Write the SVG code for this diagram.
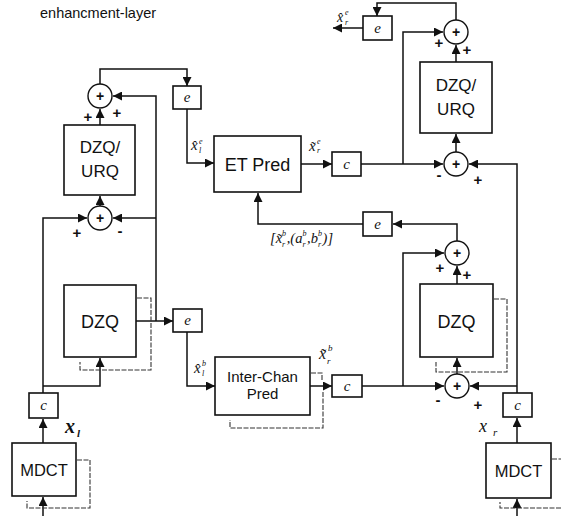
<svg xmlns="http://www.w3.org/2000/svg" width="561" height="516" viewBox="0 0 561 516">
<defs>
<marker id="ah" markerUnits="userSpaceOnUse" markerWidth="10" markerHeight="9" refX="9" refY="4.5" orient="auto">
<path d="M0,0 L9,4.5 L0,9 z" fill="#111"/>
</marker>
<style>
.box{fill:#fff;stroke:#111;stroke-width:1.6}
.sum{fill:#fff;stroke:#111;stroke-width:1.4}
.ln{fill:none;stroke:#111;stroke-width:1.5}
.ar{fill:none;stroke:#111;stroke-width:1.5;marker-end:url(#ah)}
.br{fill:none;stroke:#333;stroke-width:1.1;stroke-dasharray:5,1.5}
.sans{font-family:"Liberation Sans",Arial,sans-serif;fill:#111}
.lbl{font-family:"Liberation Sans",Arial,sans-serif;fill:#111;text-anchor:middle}
.m{font-family:"Liberation Serif","Times New Roman",serif;font-style:italic;fill:#111}
.ec{font-family:"Liberation Serif","Times New Roman",serif;font-style:italic;fill:#111;text-anchor:middle;font-size:15px}
.pl{font-family:"Liberation Sans",Arial,sans-serif;fill:#111;text-anchor:middle;font-size:14px;font-weight:bold}
.sg{font-family:"Liberation Sans",Arial,sans-serif;fill:#111;text-anchor:middle;font-size:15px;font-weight:bold}
</style>
</defs>
<rect width="561" height="516" fill="#fff"/>
<text class="sans" x="40" y="18" font-size="14.5">enhancment-layer</text>

<g id="connectors">
<path class="ar" d="M100,84 V69 H187 V86"/>
<path class="ar" d="M187,109 V163 H214"/>
<path class="ar" d="M100,125 V109"/>
<path class="ar" d="M156,321 V96 H113"/>
<path class="ar" d="M156,218 H113"/>
<path class="ar" d="M100,206 V196"/>
<path class="ar" d="M43,393 V218 H87"/>
<path class="ar" d="M43,386 H100 V358"/>
<path class="ar" d="M136,321 H173"/>
<path class="ar" d="M187,332 V386 H215"/>
<path class="ar" d="M310,386 H332"/>
<path class="ar" d="M362,386 H444"/>
<path class="ar" d="M403,386 V253 H444"/>
<path class="ar" d="M457,374 V358"/>
<path class="ar" d="M457,284 V266"/>
<path class="ar" d="M457,241 V224 H393"/>
<path class="ar" d="M363,224 H258 V193"/>
<path class="ar" d="M301,164 H332"/>
<path class="ar" d="M361,164 H443"/>
<path class="ar" d="M403,164 V32 H443"/>
<path class="ar" d="M456,152 V134"/>
<path class="ar" d="M456,62 V45"/>
<path class="ar" d="M456,20 V3 H377 V16"/>
<path class="ar" d="M363,28 H333"/>
<path class="ar" d="M517,393 V164 H469"/>
<path class="ar" d="M517,386 H470"/>
<path class="ar" d="M517,443 V418"/>
<path class="ar" d="M517,516 V499"/>
<path class="ar" d="M43,443 V419"/>
<path class="ar" d="M43,516 V497"/>
</g>

<g id="shadows">
<path class="br" d="M137,298 H151 V370 H80 V362"/>
<path class="br" d="M494,299 H507 V372 H436 V362"/>
<path class="br" d="M77,460 H90 V508 H27 V501"/>
<path class="br" d="M552,459 H561 M561,508 H500 V502"/>
<path class="br" d="M311,373 H322 V380 M323,392 V428 H230 V420"/>
</g>

<g id="sum-l-top"><circle class="sum" cx="100" cy="96" r="12"/><text class="pl" x="100" y="101">+</text></g>
<text class="sg" x="88" y="122">+</text>
<text class="sg" x="117" y="118">+</text>

<g id="dzqurq-l"><rect class="box" x="64" y="125" width="71" height="70"/>
<text class="lbl" x="100" y="153" font-size="17">DZQ/</text>
<text class="lbl" x="100" y="177" font-size="17">URQ</text></g>

<g id="sum-l-mid"><circle class="sum" cx="100" cy="218" r="12"/><text class="pl" x="100" y="223">+</text></g>
<text class="sg" x="77" y="238">+</text>
<text class="sg" x="120" y="236">-</text>

<g id="dzq-l"><rect class="box" x="64" y="285" width="72" height="72"/>
<text class="lbl" x="100" y="328" font-size="18">DZQ</text></g>

<g id="e-l-top"><rect class="box" x="173" y="86" width="28" height="23"/><text class="ec" x="187" y="102">e</text></g>
<g id="e-l-bot"><rect class="box" x="173" y="309" width="29" height="23"/><text class="ec" x="187.5" y="325">e</text></g>

<g id="c-l"><rect class="box" x="29" y="393" width="29" height="25"/><text class="ec" x="43.5" y="410">c</text></g>
<g id="mdct-l"><rect class="box" x="12" y="443" width="64" height="53"/>
<text class="lbl" x="44" y="476" font-size="16.5">MDCT</text></g>
<text class="m" x="65" y="433" font-size="20" font-weight="bold">x</text>
<text class="m" x="77" y="437" font-size="11" font-weight="bold">l</text>

<g id="et-pred"><rect class="box" x="214" y="136" width="87" height="56"/>
<text class="lbl" x="257.5" y="171" font-size="18">ET Pred</text></g>

<g id="inter-chan"><rect class="box" x="215" y="357" width="95" height="58"/>
<text class="lbl" x="262.5" y="382" font-size="15">Inter-Chan</text>
<text class="lbl" x="262.5" y="399" font-size="15">Pred</text></g>

<g id="c-mid-top"><rect class="box" x="332" y="152" width="29" height="24"/><text class="ec" x="346.5" y="169">c</text></g>
<g id="c-mid-bot"><rect class="box" x="332" y="375" width="30" height="22"/><text class="ec" x="347" y="391">c</text></g>

<g id="e-r-top"><rect class="box" x="363" y="16" width="29" height="24"/><text class="ec" x="377.5" y="33">e</text></g>
<g id="e-r-mid"><rect class="box" x="363" y="212" width="29" height="24"/><text class="ec" x="377.5" y="229">e</text></g>

<g id="sum-r-top"><circle class="sum" cx="456" cy="32" r="12"/><text class="pl" x="456" y="37">+</text></g>
<text class="sg" x="439" y="48">+</text>
<text class="sg" x="467" y="55">+</text>

<g id="dzqurq-r"><rect class="box" x="420" y="62" width="72" height="71"/>
<text class="lbl" x="456" y="91" font-size="17">DZQ/</text>
<text class="lbl" x="456" y="115" font-size="17">URQ</text></g>

<g id="sum-r-mid"><circle class="sum" cx="456" cy="164" r="12"/><text class="pl" x="456" y="169">+</text></g>
<text class="sg" x="439" y="180">-</text>
<text class="sg" x="478" y="185">+</text>

<g id="sum-r-dzq"><circle class="sum" cx="457" cy="253" r="12"/><text class="pl" x="457" y="258">+</text></g>
<text class="sg" x="440" y="273">+</text>
<text class="sg" x="467" y="280">+</text>

<g id="dzq-r"><rect class="box" x="420" y="284" width="73" height="73"/>
<text class="lbl" x="456.5" y="328" font-size="18">DZQ</text></g>

<g id="sum-r-bot"><circle class="sum" cx="457" cy="386" r="12"/><text class="pl" x="457" y="391">+</text></g>
<text class="sg" x="438" y="405">-</text>
<text class="sg" x="478" y="410">+</text>

<g id="c-r"><rect class="box" x="503" y="393" width="29" height="24"/><text class="ec" x="517.5" y="410">c</text></g>
<g id="mdct-r"><rect class="box" x="486" y="443" width="65" height="55"/>
<text class="lbl" x="518.5" y="477" font-size="16.5">MDCT</text></g>
<text class="m" x="479" y="432" font-size="18">x</text>
<text class="m" x="493" y="436" font-size="11">r</text>

<g id="labels">
<text class="m" x="191" y="150" font-size="15">x̂</text>
<text class="m" x="199" y="144" font-size="8">e</text>
<text class="m" x="199" y="153" font-size="8">l</text>

<text class="m" x="309" y="151" font-size="15">x̃</text>
<text class="m" x="317" y="144" font-size="8">e</text>
<text class="m" x="317" y="153" font-size="8">r</text>

<text class="m" x="337" y="22" font-size="14">x̂</text>
<text class="m" x="345" y="15" font-size="8">e</text>
<text class="m" x="345" y="25" font-size="8">r</text>

<text class="m" x="194" y="373" font-size="15">x̂</text>
<text class="m" x="202" y="366" font-size="8">b</text>
<text class="m" x="202" y="376" font-size="8">l</text>

<text class="m" x="319" y="359" font-size="16">x̃</text>
<text class="m" x="328" y="351" font-size="9">b</text>
<text class="m" x="327" y="364" font-size="9">r</text>

<text class="m" x="270" y="243" font-size="14.5">[x̃<tspan font-size="8" dy="-7">b</tspan><tspan font-size="8" dx="-4" dy="11">r</tspan><tspan dx="1.5" dy="-4">,(a</tspan><tspan font-size="8" dy="-7">b</tspan><tspan font-size="8" dx="-4" dy="11">r</tspan><tspan dx="1.5" dy="-4">,b</tspan><tspan font-size="8" dy="-7">b</tspan><tspan font-size="8" dx="-4" dy="11">r</tspan><tspan dx="1.5" dy="-4">)]</tspan></text>
</g>
</svg>
